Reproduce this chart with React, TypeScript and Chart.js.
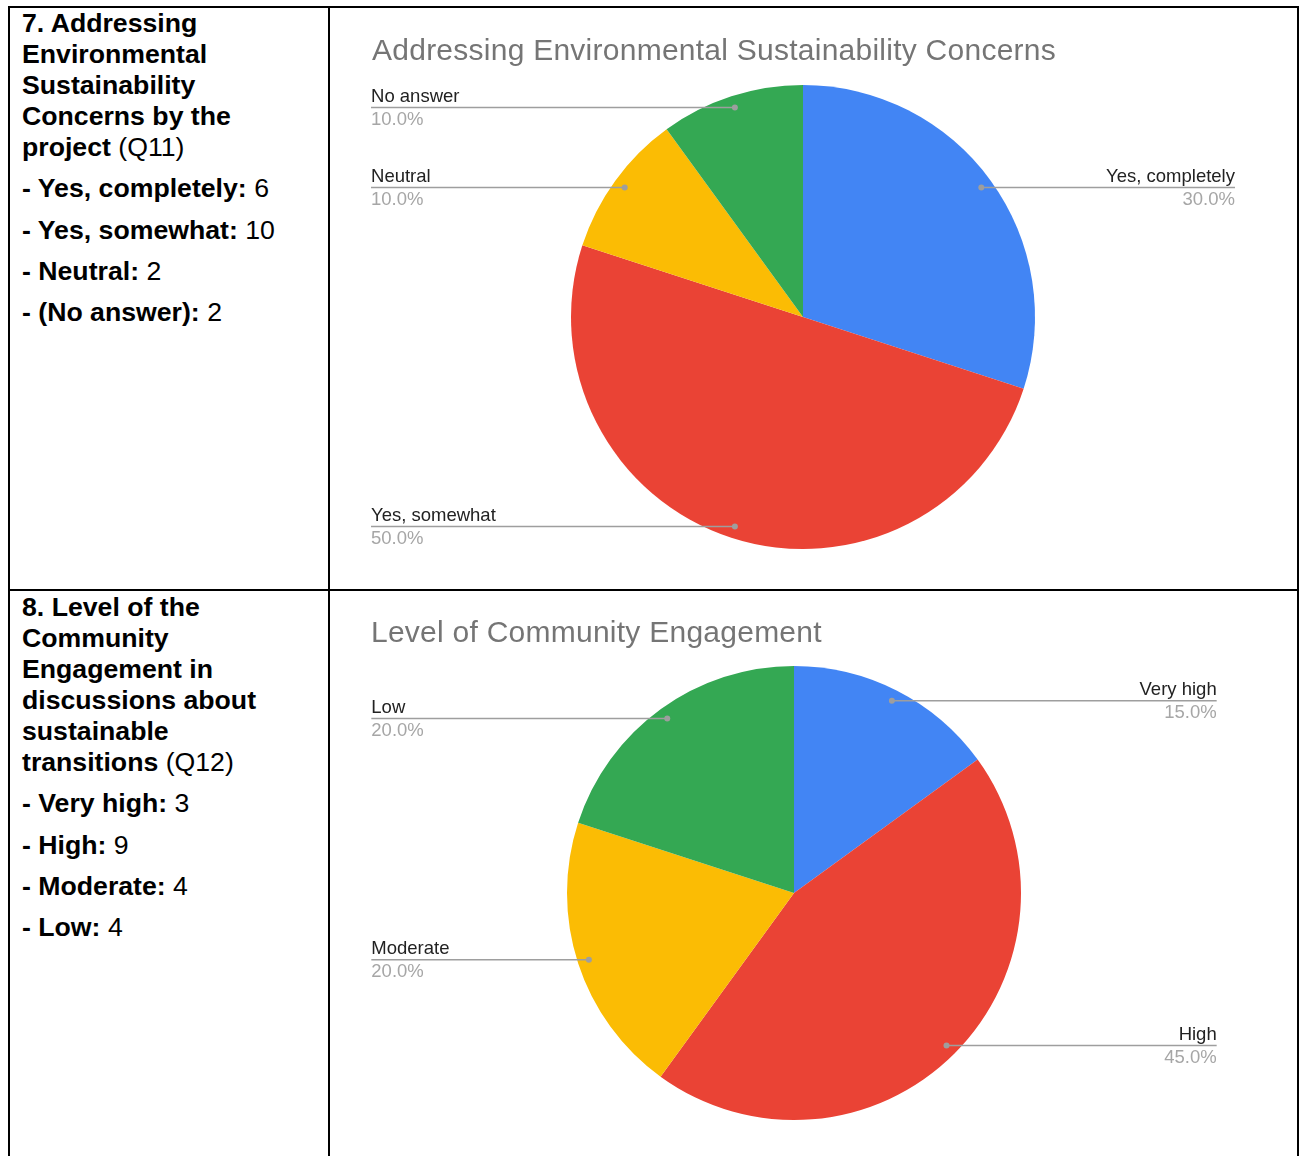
import React, { useEffect, useRef } from "react";
import { Chart, registerables } from "chart.js";

Chart.register(...registerables);

// ---- data ----
const q11Title = "Addressing Environmental Sustainability Concerns";
const q11Labels = ["Yes, completely", "Yes, somewhat", "Neutral", "No answer"];
const q11TextLabels = ["Yes, completely", "Yes, somewhat", "Neutral", "(No answer)"];
const q11Counts = [6, 10, 2, 2];
const q11Heading = ["7. Addressing", "Environmental", "Sustainability", "Concerns by the", "project"];
const q11Code = "(Q11)";

const q12Title = "Level of Community Engagement";
const q12Labels = ["Very high", "High", "Moderate", "Low"];
const q12Counts = [3, 9, 4, 4];
const q12Heading = ["8. Level of the", "Community", "Engagement in", "discussions about", "sustainable", "transitions"];
const q12Code = "(Q12)";

const sliceColors = ["#4285F4", "#EA4335", "#FBBC04", "#34A853"];

const FONT = "'Liberation Sans', Arial, Helvetica, sans-serif";

const calloutPlugin = {
  id: "callouts",
  afterDatasetsDraw(chart: any, _args: any, opts: any) {
    const ctx = chart.ctx;
    const meta = chart.getDatasetMeta(0);
    const data = chart.data.datasets[0].data as number[];
    const total = data.reduce((a, b) => a + b, 0);
    const labels = chart.data.labels as string[];
    ctx.save();
    // title
    ctx.font = `30px ${FONT}`;
    (ctx as any).letterSpacing = "0.25px";
    ctx.fillStyle = "#757575";
    ctx.textAlign = "left";
    ctx.textBaseline = "alphabetic";
    ctx.fillText(opts.title, opts.titleX, opts.titleY);
    (ctx as any).letterSpacing = "0px";

    meta.data.forEach((arc: any, i: number) => {
      const { x, y, startAngle, endAngle, outerRadius } = arc.getProps(
        ["x", "y", "startAngle", "endAngle", "outerRadius"],
        true
      );
      const mid = (startAngle + endAngle) / 2;
      const dx = x + Math.cos(mid) * outerRadius * 0.95;
      const dy = y + Math.sin(mid) * outerRadius * 0.95;
      const right = Math.cos(mid) >= 0;
      const colX = right ? x + outerRadius * 1.862 : x - outerRadius * 1.862;
      ctx.strokeStyle = "#9e9e9e";
      ctx.lineWidth = 1.5;
      ctx.beginPath();
      ctx.moveTo(dx, dy);
      ctx.lineTo(colX, dy);
      ctx.stroke();
      ctx.fillStyle = "#9e9e9e";
      ctx.beginPath();
      ctx.arc(dx, dy, 3, 0, Math.PI * 2);
      ctx.fill();
      ctx.textAlign = right ? "right" : "left";
      ctx.font = `18.5px ${FONT}`;
      ctx.fillStyle = "#222222";
      ctx.fillText(labels[i], colX, dy - 5.5);
      ctx.fillStyle = "#a6a6a6";
      ctx.fillText(((data[i] / total) * 100).toFixed(1) + "%", colX, dy + 17.5);
    });
    ctx.restore();
  },
};

function PieChart(props: {
  labels: string[];
  counts: number[];
  title: string;
  width: number;
  height: number;
  padding: { left: number; right: number; top: number; bottom: number };
  titleX: number;
  titleY: number;
}) {
  const ref = useRef<HTMLCanvasElement | null>(null);
  useEffect(() => {
    if (!ref.current) return;
    const chart = new Chart(ref.current, {
      type: "pie",
      data: {
        labels: props.labels,
        datasets: [
          {
            data: props.counts,
            backgroundColor: sliceColors,
            borderWidth: 0,
          },
        ],
      },
      options: {
        animation: false,
        responsive: false,
        maintainAspectRatio: false,
        devicePixelRatio: 1,
        layout: { padding: props.padding },
        plugins: {
          legend: { display: false },
          tooltip: { enabled: false },
          title: { display: false },
          callouts: { title: props.title, titleX: props.titleX, titleY: props.titleY },
        } as any,
      },
      plugins: [calloutPlugin],
    });
    return () => chart.destroy();
  }, []);
  return (
    <canvas
      ref={ref}
      width={props.width}
      height={props.height}
      style={{ width: props.width, height: props.height, display: "block" }}
    />
  );
}

function TextCell(props: {
  top: number;
  heading: string[];
  code: string;
  labels: string[];
  counts: number[];
}) {
  const line: React.CSSProperties = { lineHeight: "31px", margin: 0, whiteSpace: "nowrap" };
  return (
    <div
      style={{
        position: "absolute",
        left: 22,
        top: props.top,
        fontFamily: FONT,
        fontSize: 26.67,
        color: "#000",
      }}
    >
      {props.heading.map((h, i) => (
        <div key={i} style={line}>
          <b>{h}</b>
          {i === props.heading.length - 1 ? " " + props.code : ""}
        </div>
      ))}
      {props.labels.map((l, i) => (
        <div key={"l" + i} style={{ ...line, marginTop: 10.3 }}>
          <b>- {l}:</b> {props.counts[i]}
        </div>
      ))}
    </div>
  );
}

export default function App() {
  useEffect(() => {
    document.body.style.margin = "0";
  }, []);
  const bar = (s: React.CSSProperties): React.CSSProperties => ({
    position: "absolute",
    background: "#000",
    ...s,
  });
  return (
    <div style={{ position: "relative", width: 1304, height: 1156, overflow: "hidden", background: "#fff" }}>
      <TextCell top={8} heading={q11Heading} code={q11Code} labels={q11TextLabels} counts={q11Counts} />
      <TextCell top={592} heading={q12Heading} code={q12Code} labels={q12Labels} counts={q12Counts} />
      <div style={{ position: "absolute", left: 330, top: 8 }}>
        <PieChart
          labels={q11Labels}
          counts={q11Counts}
          title={q11Title}
          width={967}
          height={581}
          padding={{ left: 241, right: 262, top: 77, bottom: 40 }}
          titleX={42}
          titleY={52}
        />
      </div>
      <div style={{ position: "absolute", left: 330, top: 591 }}>
        <PieChart
          labels={q12Labels}
          counts={q12Counts}
          title={q12Title}
          width={967}
          height={565}
          padding={{ left: 237, right: 276, top: 75, bottom: 36 }}
          titleX={41}
          titleY={51}
        />
      </div>
      <div style={bar({ left: 8, top: 6, width: 1291, height: 2 })} />
      <div style={bar({ left: 8, top: 6, width: 2, height: 1150 })} />
      <div style={bar({ left: 328, top: 6, width: 2, height: 1150 })} />
      <div style={bar({ left: 1297, top: 6, width: 2, height: 1150 })} />
      <div style={bar({ left: 8, top: 589, width: 1291, height: 2 })} />
    </div>
  );
}
